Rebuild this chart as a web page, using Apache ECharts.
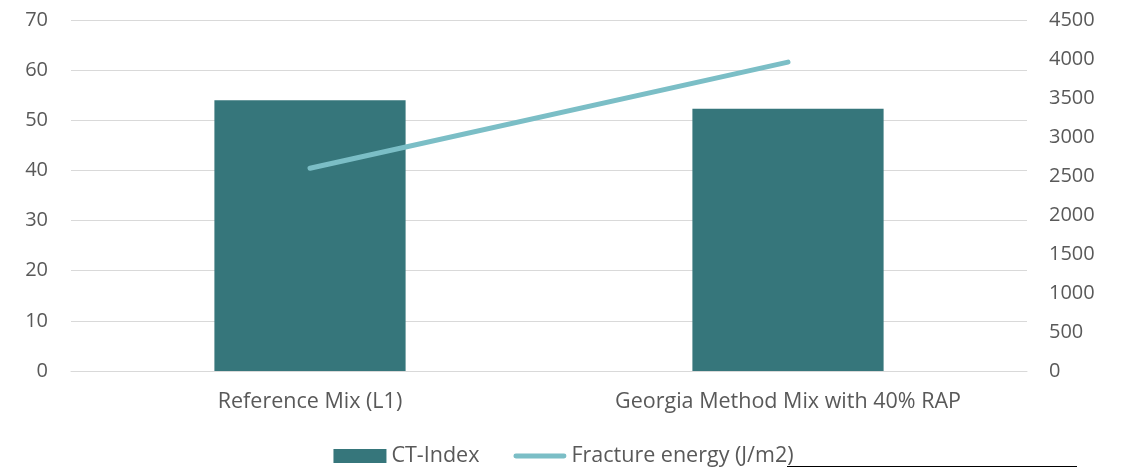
<!DOCTYPE html>
<html>
<head>
<meta charset="utf-8">
<script src="https://cdn.jsdelivr.net/npm/echarts@6/dist/echarts.min.js"></script>
<style>
  html, body { margin: 0; padding: 0; background: #ffffff; }
  #chart { width: 1127px; height: 468px; }
</style>
</head>
<body>
<div id="chart"></div>
<script>
// Mix designs compared
const categories = ['Reference Mix (L1)', 'Georgia Method Mix with 40% RAP'];
// Cracking tolerance index (left axis)
const ctIndex = [54.0, 52.3];
// Fracture energy in J/m2 (right axis)
const fractureEnergy = [2600, 3960];

const FONT = '"Open Sans", "Noto Sans", sans-serif';
const AXIS_FONT_SIZE = 20;
const TEXT_FONT_SIZE = 21.5;
const LABEL_COLOR = '#595959';
const GRID_COLOR = '#d9d9d9';
const BAR_COLOR = '#36767b';
const LINE_COLOR = '#7bbec6';

const chart = echarts.init(document.getElementById('chart'), null, { renderer: 'canvas' });

chart.setOption({
  animation: false,
  backgroundColor: '#ffffff',
  textStyle: { fontFamily: FONT },
  grid: { left: 71, right: 100, top: 20, bottom: 97 },
  legend: {
    left: 'center',
    top: 445,
    padding: 0,
    itemWidth: 53,
    itemHeight: 14,
    itemGap: 34,
    textStyle: { fontFamily: FONT, fontSize: TEXT_FONT_SIZE, color: LABEL_COLOR },
    data: [
      { name: 'CT-Index', icon: 'rect' },
      {
        name: 'Fracture energy (J/m2)',
        icon: 'path://M2.5,0H51.5A2.5,2.5,0,0,1,51.5,5H2.5A2.5,2.5,0,0,1,2.5,0Z'
      }
    ]
  },
  xAxis: {
    type: 'category',
    data: categories,
    axisLine: { show: true, lineStyle: { color: GRID_COLOR, width: 1 } },
    axisTick: { show: false },
    axisLabel: { color: LABEL_COLOR, fontSize: TEXT_FONT_SIZE, fontFamily: FONT, margin: 20 }
  },
  yAxis: [
    {
      type: 'value',
      min: 0, max: 70, interval: 10,
      axisLine: { show: false },
      axisTick: { show: false },
      splitLine: { lineStyle: { color: GRID_COLOR, width: 1 } },
      axisLabel: { color: LABEL_COLOR, fontSize: AXIS_FONT_SIZE, fontFamily: FONT, margin: 23 }
    },
    {
      type: 'value',
      min: 0, max: 4500, interval: 500,
      axisLine: { show: false },
      axisTick: { show: false },
      splitLine: { show: false },
      axisLabel: {
        color: LABEL_COLOR, fontSize: AXIS_FONT_SIZE, fontFamily: FONT, margin: 22,
        formatter: (v) => String(v)
      }
    }
  ],
  series: [
    {
      name: 'CT-Index',
      type: 'bar',
      yAxisIndex: 0,
      data: ctIndex,
      barWidth: '40%',
      itemStyle: { color: BAR_COLOR }
    },
    {
      name: 'Fracture energy (J/m2)',
      type: 'line',
      yAxisIndex: 1,
      data: fractureEnergy,
      symbol: 'none',
      lineStyle: { color: LINE_COLOR, width: 5, cap: 'round' },
      itemStyle: { color: LINE_COLOR }
    }
  ],
  graphic: [
    {
      type: 'line',
      shape: { x1: 787, y1: 466.5, x2: 1077, y2: 466.5 },
      style: { stroke: '#000000', lineWidth: 1 },
      silent: true
    }
  ]
});
</script>
</body>
</html>
